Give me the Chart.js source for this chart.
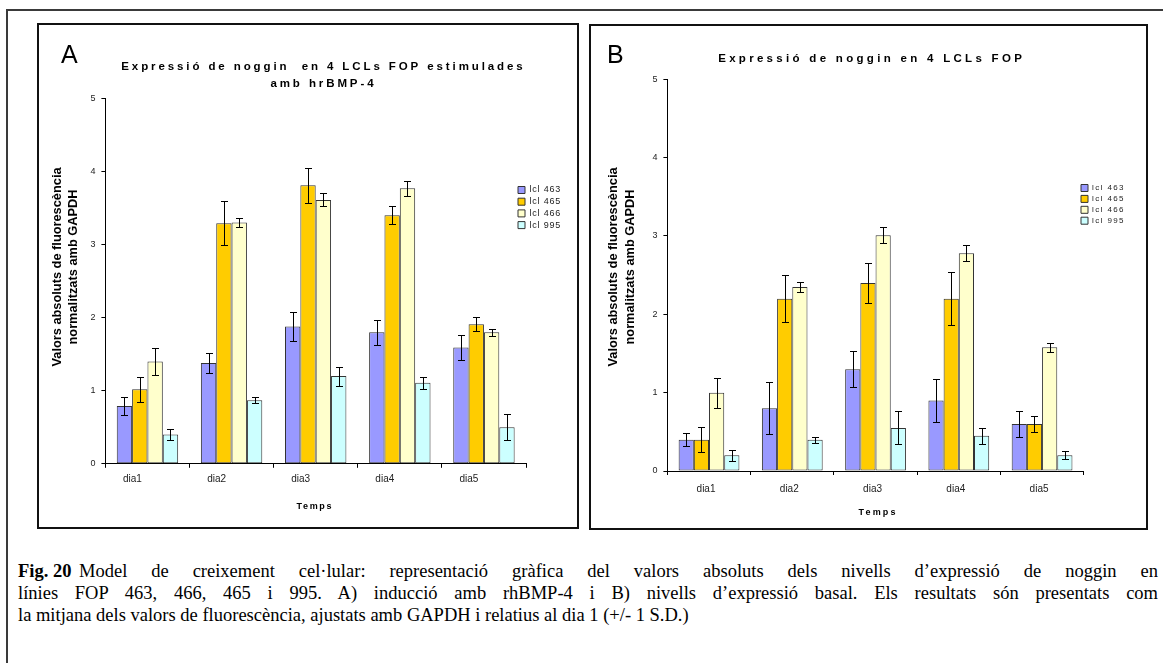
<!DOCTYPE html>
<html><head><meta charset="utf-8">
<script src="https://cdn.jsdelivr.net/npm/chart.js"></script>
<style>
html,body{margin:0;padding:0;background:#fff;width:1163px;height:663px;overflow:hidden;position:relative;}
.frame{position:absolute;left:6px;top:9px;width:1200px;height:700px;border:2px solid #3a3a3a;}
.panel{position:absolute;border:2px solid #111;box-sizing:border-box;pointer-events:none;}
canvas{position:absolute;}
.letter{position:absolute;font-family:"Liberation Sans",Arial,sans-serif;font-size:25px;line-height:25px;color:#000;}
.cap{position:absolute;left:18px;width:1140px;top:560px;font-family:"Liberation Serif","Times New Roman",serif;font-size:18.5px;line-height:22px;color:#000;}
.cap .j{text-align:justify;text-align-last:justify;white-space:nowrap;}
.cap .l{text-align:left;white-space:nowrap;}
.cap .fig{display:inline-block;width:61px;font-weight:bold;text-align:left;text-align-last:left;white-space:pre;}
</style></head>
<body>
<div class="frame"></div>
<canvas id="chartA" width="540" height="504" style="left:38px;top:24px;width:540px;height:504px"></canvas>
<canvas id="chartB" width="557" height="504" style="left:590px;top:25px;width:557px;height:504px"></canvas>
<div class="panel" style="left:37px;top:23px;width:542px;height:506px"></div>
<div class="panel" style="left:589px;top:24px;width:559px;height:506px"></div>
<div class="letter" style="left:61px;top:42px">A</div>
<div class="letter" style="left:607px;top:42px">B</div>
<div class="cap">
<div class="j"><span class="fig">Fig. 20</span>Model de creixement cel·lular: representació gràfica del valors absoluts dels nivells d’expressió de noggin en</div>
<div class="j">línies FOP 463, 466, 465 i 995. A) inducció amb rhBMP-4 i B) nivells d’expressió basal. Els resultats són presentats com</div>
<div class="l">la mitjana dels valors de fluorescència, ajustats amb GAPDH i relatius al dia 1 (+/- 1 S.D.)</div>
</div>
<script>
// ---- data ----
const categories = ['dia1', 'dia2', 'dia3', 'dia4', 'dia5'];
const seriesNames = ['lcl 463', 'lcl 465', 'lcl 466', 'lcl 995'];
const yTicks = [0, 1, 2, 3, 4, 5];

// Panel A: induced with rhBMP-4
const a463 = [0.79, 1.38, 1.88, 1.80, 1.59];
const a463err = [0.12, 0.14, 0.20, 0.17, 0.17];
const a465 = [1.02, 3.29, 3.81, 3.40, 1.91];
const a465err = [0.17, 0.30, 0.24, 0.12, 0.10];
const a466 = [1.40, 3.30, 3.61, 3.77, 1.80];
const a466err = [0.19, 0.06, 0.09, 0.10, 0.05];
const a995 = [0.40, 0.87, 1.20, 1.11, 0.50];
const a995err = [0.07, 0.04, 0.13, 0.08, 0.18];

// Panel B: basal expression
const b463 = [0.40, 0.80, 1.30, 0.90, 0.60];
const b463err = [0.08, 0.33, 0.23, 0.27, 0.17];
const b465 = [0.40, 2.20, 2.40, 2.20, 0.60];
const b465err = [0.16, 0.30, 0.25, 0.34, 0.10];
const b466 = [1.00, 2.35, 3.01, 2.78, 1.58];
const b466err = [0.19, 0.06, 0.10, 0.10, 0.055];
const b995 = [0.20, 0.40, 0.55, 0.45, 0.20];
const b995err = [0.07, 0.04, 0.21, 0.10, 0.05];

const titleA = ['Expressió de noggin  en 4 LCLs FOP estimulades', 'amb hrBMP-4'];
const titleB = 'Expressió de noggin en 4 LCLs FOP';
const yTitle = ['Valors absoluts de fluorescència', 'normalitzats amb GAPDH'];
const xTitleA = 'Temps';
const xTitleB = 'Temps';

// ---- styling ----
const FAM = '"Liberation Sans", Arial, sans-serif';
const fills = ['#9999FF', '#FFCC00', '#FFFFCC', '#CCFFFF'];
const BORDER = '#333333';

const errorBars = {
  id: 'errorBars',
  afterDatasetsDraw(chart) {
    const ctx = chart.ctx, y = chart.scales.y;
    ctx.save();
    ctx.strokeStyle = '#000';
    ctx.lineWidth = 1;
    chart.data.datasets.forEach((ds, i) => {
      const meta = chart.getDatasetMeta(i);
      meta.data.forEach((bar, j) => {
        const v = ds.data[j], e = ds.errors[j];
        const x = Math.round(bar.x) + 0.5;
        const yt = Math.round(y.getPixelForValue(v + e)) + 0.5;
        const yb = Math.round(y.getPixelForValue(v - e)) + 0.5;
        ctx.beginPath();
        ctx.moveTo(x, yt); ctx.lineTo(x, yb);
        ctx.moveTo(x - 3.5, yt); ctx.lineTo(x + 3.5, yt);
        ctx.moveTo(x - 3.5, yb); ctx.lineTo(x + 3.5, yb);
        ctx.stroke();
      });
    });
    ctx.restore();
  }
};

function wrap(obj, m, getOff, sp) {
  if (!obj || obj['_w_' + m]) return;
  const orig = obj[m];
  obj['_w_' + m] = true;
  obj[m] = function (...a) {
    const ctx = this.ctx;
    const off = getOff(this);
    ctx.save();
    ctx.letterSpacing = (sp || 0) + 'px';
    ctx.translate(off[0], off[1]);
    const r = orig.apply(this, a);
    ctx.restore();
    return r;
  };
}

const textTweaks = {
  id: 'textTweaks',
  afterLayout(chart, args, o) {
    const lg = chart.legend;
    if (lg) {
      const w = lg.width;
      lg.left = o.legendX; lg.right = o.legendX + w;
      lg.top = o.legendY; lg.bottom = o.legendY + 200;
    }
  },
  beforeDraw(chart, args, o) {
    wrap(chart.titleBlock, 'draw', (b) => [o.titleCX - (b.left + b.right) / 2 + o.titleSp / 2, 0], o.titleSp);
    wrap(chart.legend, 'draw', () => [0, 0], o.legendSp);
    wrap(chart.scales.x, 'drawTitle', (s) => [o.xTitleCX - (s.left + s.right) / 2 + o.xTitleSp / 2, 0], o.xTitleSp);
    wrap(chart.scales.y, 'drawTitle', (s) => [0, o.yTitleCY - (s.top + s.bottom) / 2], 0);
  }
};

function makeDatasets(vals, errs) {
  return vals.map((v, i) => ({
    label: seriesNames[i],
    data: v,
    errors: errs[i],
    backgroundColor: fills[i],
    borderColor: BORDER,
    borderWidth: 1,
    borderSkipped: false,
    categoryPercentage: 0.73,
    barPercentage: 1.0
  }));
}

function makeChart(id, p) {
  return new Chart(document.getElementById(id), {
    type: 'bar',
    data: { labels: categories, datasets: makeDatasets(p.vals, p.errs) },
    plugins: [errorBars, textTweaks],
    options: {
      responsive: false,
      animation: false,
      devicePixelRatio: 1,
      layout: { padding: { left: 0, top: 0, right: p.padRight, bottom: 0 } },
      plugins: {
        tooltip: { enabled: false },
        title: {
          display: true, text: p.title, fullSize: false, color: '#000',
          font: { family: FAM, size: 11.5, weight: 'bold', lineHeight: p.titleLH },
          padding: { top: p.titlePadTop, bottom: p.titlePadBottom }
        },
        legend: {
          display: true, position: 'chartArea', align: 'start',
          labels: {
            boxWidth: 7, boxHeight: 7, padding: p.legendPad, color: '#222',
            font: { family: FAM, size: p.legendFont }
          }
        },
        textTweaks: p.tweaks
      },
      scales: {
        x: {
          ticks: { font: { family: FAM, size: 10 }, color: '#222', padding: p.xTickPad, labelOffset: p.labelOffset, maxRotation: 0, autoSkip: false },
          grid: { display: true, offset: true, drawOnChartArea: false, drawTicks: true, tickLength: 4, color: '#000', lineWidth: 1 },
          border: { display: true, color: '#000', width: 1 },
          title: { display: true, text: p.xTitle, color: '#000', font: { family: FAM, size: 9, weight: 'bold' }, padding: { top: 0, bottom: p.xTitlePadBottom } },
          afterFit(s) { s.height = p.xHeight; }
        },
        y: {
          min: yTicks[0], max: yTicks[yTicks.length - 1],
          afterBuildTicks(s) { s.ticks = yTicks.map(v => ({ value: v })); },
          ticks: { font: { family: FAM, size: 9 }, color: '#222', padding: 6 },
          grid: { display: true, drawOnChartArea: false, drawTicks: true, tickLength: 4, color: '#000', lineWidth: 1 },
          border: { display: true, color: '#000', width: 1 },
          title: { display: true, text: yTitle, color: '#000', font: { family: FAM, size: 12.8, weight: 'bold', lineHeight: p.yTitleLH }, padding: { top: p.yTitlePadTop, bottom: 0 } },
          afterFit(s) { s.width = p.yWidth; }
        }
      }
    }
  });
}

makeChart('chartA', {
  vals: [a463, a465, a466, a995],
  errs: [a463err, a465err, a466err, a995err],
  title: titleA, titleLH: 1.47, titlePadTop: 34.05, titlePadBottom: 6.45,
  padRight: 52, yWidth: 67.4, xHeight: 64.2,
  xTickPad: 5.2, labelOffset: -15, xTitle: xTitleA, xTitlePadBottom: 15.6,
  yTitleLH: 1.25, yTitlePadTop: 11,
  legendPad: 2.7, legendFont: 9,
  tweaks: { legendX: 477.3, legendY: 158.8, titleCX: 284, titleSp: 2.9, legendSp: 0.8, xTitleCX: 276, xTitleSp: 1.7, yTitleCY: 243 }
});

makeChart('chartB', {
  vals: [b463, b465, b466, b995],
  errs: [b463err, b465err, b466err, b995err],
  title: titleB, titleLH: 1.5, titlePadTop: 25.4, titlePadBottom: 11.65,
  padRight: 63.3, yWidth: 77.4, xHeight: 58,
  xTickPad: 8, labelOffset: -3, xTitle: xTitleB, xTitlePadBottom: 10.6,
  yTitleLH: 1.289, yTitlePadTop: 15.25,
  legendPad: 2.9, legendFont: 8,
  tweaks: { legendX: 488.1, legendY: 156.1, titleCX: 280, titleSp: 3.3, legendSp: 1.4, xTitleCX: 287, xTitleSp: 2.2, yTitleCY: 242 }
});
</script>
</body></html>
